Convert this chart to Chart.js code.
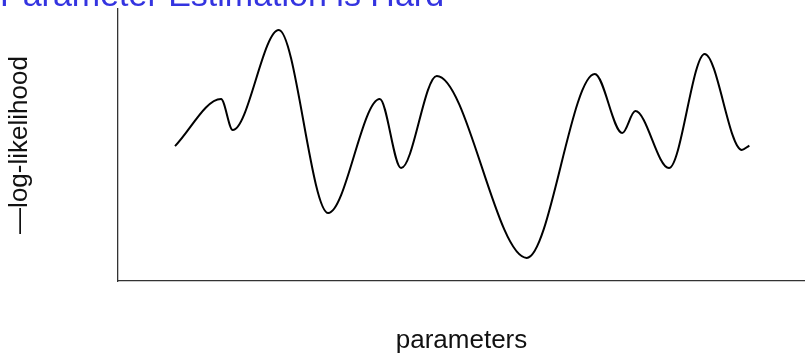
<!DOCTYPE html>
<html>
<head>
<meta charset="utf-8">
<script src="https://cdn.jsdelivr.net/npm/chart.js@4"></script>
<style>
  html, body { margin: 0; padding: 0; background: #ffffff; overflow: hidden; }
  #wrap { width: 805px; height: 353px; position: relative; }
</style>
</head>
<body>
<div id="wrap"><canvas id="c" width="805" height="353"></canvas></div>
<script>
// parameter positions (arbitrary units, 0..100 across the axis)
const paramValues = [8.3, 15.0, 16.7, 23.4, 30.6, 38.1, 41.2, 46.4, 59.5, 69.4, 73.4, 75.3, 80.2, 85.4, 90.8, 91.9];
// negative log-likelihood (arbitrary units, 0..100 up the axis)
const negLogLik = [49.6, 66.9, 55.5, 92.3, 25.0, 66.9, 41.5, 75.4, 8.5, 76.1, 54.4, 62.5, 41.5, 83.5, 48.2, 49.8];

const chartTitle = 'Parameter Estimation is Hard';
const xLabel = 'parameters';
const yLabel = '\u2014log-likelihood';

const points = paramValues.map((x, i) => ({ x: x, y: negLogLik[i] }));
const FONT = '"Liberation Sans", Arial, Helvetica, sans-serif';

new Chart(document.getElementById('c'), {
  type: 'line',
  data: {
    datasets: [{
      data: points,
      borderColor: '#000000',
      borderWidth: 2,
      pointRadius: 0,
      fill: false,
      cubicInterpolationMode: 'monotone'
    }]
  },
  options: {
    responsive: false,
    animation: false,
    events: [],
    layout: { padding: { top: 0, left: 0, right: 0, bottom: 0 } },
    plugins: {
      legend: { display: false },
      tooltip: { enabled: false },
      title: {
        display: true,
        text: chartTitle,
        align: 'start',
        color: '#3434e0',
        font: { family: FONT, size: 34, weight: 'normal', lineHeight: 1.2 },
        padding: { top: -24.2, bottom: -7.6 }
      }
    },
    scales: {
      x: {
        type: 'linear',
        min: 0,
        max: 100,
        grid: { display: false, drawTicks: false, tickLength: 0 },
        ticks: { display: false },
        border: { display: true, color: '#333333', width: 1.3 },
        title: {
          display: true,
          text: xLabel,
          color: '#111111',
          font: { family: FONT, size: 26, weight: 'normal', lineHeight: 1.2 },
          padding: { top: 44.4, bottom: -3.6 }
        }
      },
      y: {
        type: 'linear',
        min: 0,
        max: 100,
        grid: { display: false, drawTicks: false, tickLength: 0 },
        ticks: { display: false },
        border: { display: true, color: '#333333', width: 1.3 },
        title: {
          display: true,
          text: yLabel,
          color: '#111111',
          font: { family: FONT, size: 26, weight: 'normal', lineHeight: 1.2 },
          padding: { top: 4.4, bottom: 82.4 }
        }
      }
    }
  }
});
</script>
</body>
</html>
